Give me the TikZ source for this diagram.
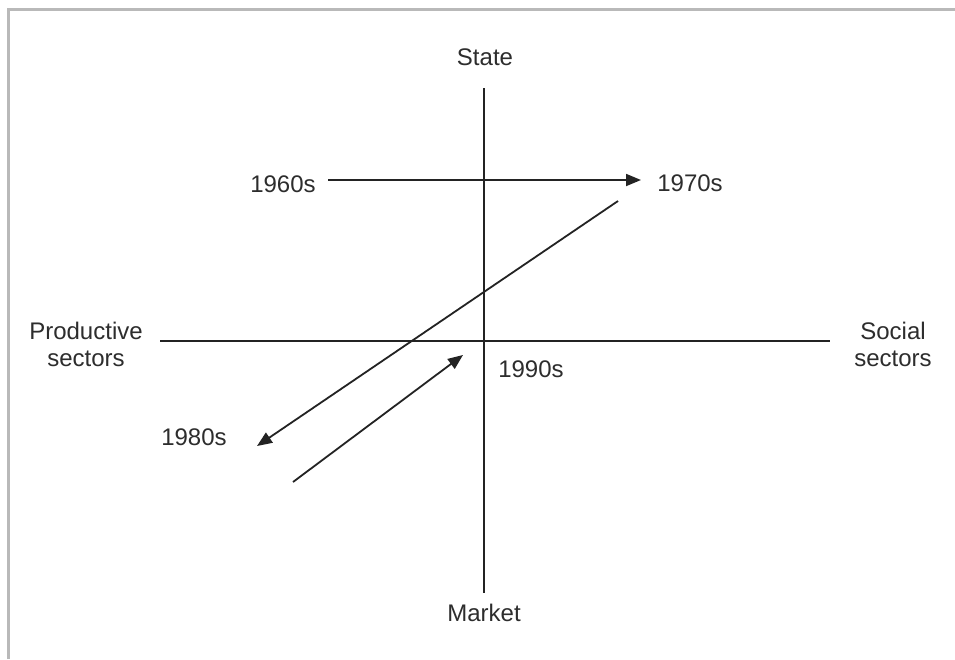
\documentclass[tikz,border=0pt]{standalone}
\usepackage{fontspec}
\setmainfont{Liberation Sans}
\usetikzlibrary{arrows.meta}
\definecolor{frame}{RGB}{185,185,185}
\definecolor{ink}{RGB}{35,35,35}
\definecolor{txt}{RGB}{45,45,45}
\begin{document}
\begin{tikzpicture}[x=1pt,y=-1pt,
  lbl/.style={text=txt,font=\fontsize{24}{27}\selectfont,inner sep=0pt,align=center},
  axis/.style={draw=ink,line width=1.8pt},
  arr/.style={draw=ink,line width=1.8pt,-{Triangle[length=15pt,width=12pt]}}]
\useasboundingbox (0,0) rectangle (955,659);
\fill[white] (0,0) rectangle (955,659);
\draw[frame,line width=2.2pt] (8.5,659) -- (8.5,9.5) -- (955,9.5);
% axes
\coordinate (vt) at (484,88);
\coordinate (vb) at (484,593);
\coordinate (hl) at (160,341);
\coordinate (hr) at (830,341);
\draw[axis] (vt) -- (vb);
\draw[axis] (hl) -- (hr);
% labels
\node[lbl] (state) at (485,57) {State};
\node[lbl] (market) at (484,613) {Market};
\node[lbl] (prod) at (86,344) {Productive\\sectors};
\node[lbl] (soc) at (893,344) {Social\\sectors};
\node[lbl] (s60) at (283,184) {1960s};
\node[lbl] (s70) at (690,183) {1970s};
\node[lbl] (s80) at (194,437) {1980s};
\node[lbl] (s90) at (531,369) {1990s};
% arrows
\coordinate (a1s) at (328,180);
\coordinate (a1e) at (641,180);
\coordinate (a2s) at (618,201);
\coordinate (a2e) at (257,446);
\coordinate (a3s) at (293,482);
\coordinate (a3e) at (463,355);
\draw[arr] (a1s) -- (a1e);
\draw[arr] (a2s) -- (a2e);
\draw[arr] (a3s) -- (a3e);
\end{tikzpicture}
\end{document}
